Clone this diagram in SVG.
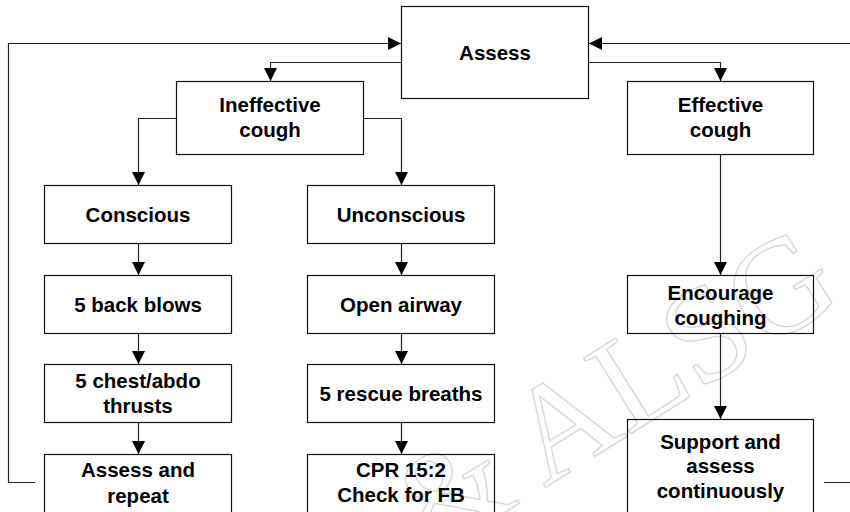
<svg xmlns="http://www.w3.org/2000/svg" width="850" height="512" viewBox="0 0 850 512">
<defs>
<marker id="ah" markerUnits="userSpaceOnUse" markerWidth="14" markerHeight="14" refX="13" refY="7" orient="auto">
<path d="M0,0.5 L13,7 L0,13.5 z" fill="#000"/>
</marker>
<style>
.box{fill:none;stroke:#111;stroke-width:1.2}
.t{font-family:"Liberation Sans",Arial,sans-serif;font-weight:bold;font-size:20.5px;fill:#000;text-anchor:middle}
.c{fill:none;stroke:#222;stroke-width:1.2}
.a{marker-end:url(#ah)}
.wm{font-family:"Liberation Serif","Times New Roman",serif;font-size:136px;fill:none;stroke:#d8d8d8;stroke-width:1.4}
</style>
</defs>
<rect width="850" height="512" fill="#fff"/>
<text class="wm" transform="translate(432,558) rotate(-32)">&amp; ALSG</text>
<g id="connectors">
<path class="c a" d="M35,482.5 H8.5 V43.5 H401"/>
<path class="c a" d="M824,482.5 H860 V43.5 H589"/>
<path class="c a" d="M401,62.5 H270.5 V81"/>
<path class="c a" d="M589,62.5 H720.5 V81"/>
<path class="c a" d="M176,118.5 H138.5 V185"/>
<path class="c a" d="M364,118.5 H401.5 V185"/>
<path class="c a" d="M138.5,244 V275"/>
<path class="c a" d="M138.5,334 V364"/>
<path class="c a" d="M138.5,423 V454"/>
<path class="c a" d="M401.5,244 V275"/>
<path class="c a" d="M401.5,334 V364"/>
<path class="c a" d="M401.5,423 V454"/>
<path class="c a" d="M720.5,155 V275"/>
<path class="c a" d="M720.5,334 V419"/>
</g>
<g id="assess"><rect class="box" x="401.5" y="6.5" width="187" height="92"/><text class="t" x="495" y="60">Assess</text></g>
<g id="ineffective"><rect class="box" x="176.5" y="81.5" width="187" height="73"/><text class="t" x="270" y="112">Ineffective</text><text class="t" x="270" y="136.5">cough</text></g>
<g id="effective"><rect class="box" x="627.5" y="81.5" width="186" height="73"/><text class="t" x="720.5" y="112">Effective</text><text class="t" x="720.5" y="136.5">cough</text></g>
<g id="conscious"><rect class="box" x="44.5" y="185.5" width="187" height="58"/><text class="t" x="138" y="222">Conscious</text></g>
<g id="unconscious"><rect class="box" x="307.5" y="185.5" width="187" height="58"/><text class="t" x="401" y="222">Unconscious</text></g>
<g id="backblows"><rect class="box" x="44.5" y="275.5" width="187" height="58"/><text class="t" x="138" y="312">5 back blows</text></g>
<g id="openairway"><rect class="box" x="307.5" y="275.5" width="187" height="58"/><text class="t" x="401" y="312">Open airway</text></g>
<g id="encourage"><rect class="box" x="627.5" y="275.5" width="186" height="58"/><text class="t" x="720.5" y="300">Encourage</text><text class="t" x="720.5" y="324.5">coughing</text></g>
<g id="thrusts"><rect class="box" x="44.5" y="364.5" width="187" height="58"/><text class="t" x="138" y="387.5">5 chest/abdo</text><text class="t" x="138" y="413">thrusts</text></g>
<g id="rescue"><rect class="box" x="307.5" y="364.5" width="187" height="58"/><text class="t" x="401" y="401">5 rescue breaths</text></g>
<g id="assessrepeat"><rect class="box" x="44.5" y="454.5" width="187" height="62"/><text class="t" x="138" y="477">Assess and</text><text class="t" x="138" y="502.5">repeat</text></g>
<g id="cpr"><rect class="box" x="307.5" y="454.5" width="187" height="62"/><text class="t" x="401" y="477">CPR 15:2</text><text class="t" x="401" y="502">Check for FB</text></g>
<g id="support"><rect class="box" x="627.5" y="419.5" width="186" height="97"/><text class="t" x="720.5" y="448.5">Support and</text><text class="t" x="720.5" y="473">assess</text><text class="t" x="720.5" y="498">continuously</text></g>
</svg>
